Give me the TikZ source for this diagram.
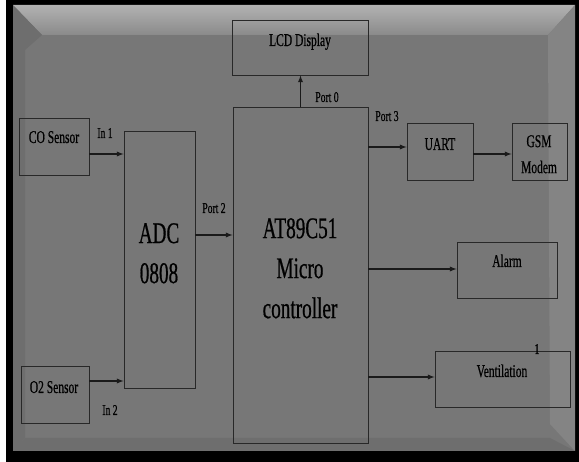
\documentclass[tikz,border=0pt]{standalone}
\usepackage{fontspec}
\setmainfont{Liberation Serif}[FakeStretch=0.64, FakeBold=0.6]
\usepackage{tikz}

\definecolor{facegray}{HTML}{777777}
\definecolor{toplight}{HTML}{B2B2B2}
\definecolor{topdark}{HTML}{8A8A8A}
\definecolor{sidelight}{HTML}{848484}
\definecolor{sidedark}{HTML}{6E6E6E}
\definecolor{inkgray}{HTML}{1A1A1A}

\begin{document}
\begin{tikzpicture}[x=1pt,y=-1pt,
    blk/.style={draw=inkgray!85!facegray, line width=0.9pt, inner sep=0pt},
    lbl/.style={font=\fontsize{18}{26}\selectfont, text=black, inner sep=0pt, anchor=base},
    big/.style={font=\fontsize{30}{40}\selectfont, text=black, inner sep=0pt, align=center, anchor=north},
    port/.style={font=\fontsize{15}{18}\selectfont, text=black, inner sep=0pt, anchor=base},
    arr/.style={->, >=latex, line width=1.3pt, draw=inkgray}]
        \useasboundingbox (0,0) rectangle (579,462);

        % Frame and bevelled panel
        \fill[white] (0,0) rectangle (579,462);
        \fill[black] (6,0) rectangle (579,462);
        \fill[facegray] (13,5) rectangle (575,451);
        \shade[top color=toplight, bottom color=topdark] (13,5) -- (575,5) -- (548,35) -- (42,35) -- cycle;
        \fill[sidelight] (575,5) -- (575,451) -- (550,424) -- (548,35) -- cycle;
        \fill[sidedark] (13,5) -- (42,35) -- (25,50) -- (25,438) -- (13,451) -- cycle;
        \fill[sidedark] (13,451) -- (25,438) -- (550,438) -- (575,451) -- cycle;

        % Blocks
        \node[blk, minimum width=136, minimum height=55] (lcd) at (300,47.5) {};
        \node[blk, minimum width=70, minimum height=57] (co) at (54,146.5) {};
        \node[blk, minimum width=68, minimum height=57] (otwo) at (55,394.5) {};
        \node[blk, minimum width=71, minimum height=257] (adc) at (159.5,259.5) {};
        \node[blk, minimum width=135, minimum height=336] (micro) at (300.5,275) {};
        \node[blk, minimum width=66, minimum height=57] (uart) at (440,151.5) {};
        \node[blk, minimum width=55, minimum height=57] (gsm) at (539.5,151.5) {};
        \node[blk, minimum width=100, minimum height=56] (alarm) at (507,270) {};
        \node[blk, minimum width=135, minimum height=56] (vent) at (502.5,379) {};

        % Block texts
        \node[lbl] (lcdtxt) at (300,46) {LCD Display};
        \node[lbl] (cotxt) at (54,143) {CO Sensor};
        \node[lbl] (otwotxt) at (54,393) {O2 Sensor};
        \node[lbl] (uarttxt) at (440,150) {UART};
        \node[lbl, align=center, anchor=north] (gsmtxt) at (539,135) {GSM\\Modem};
        \node[lbl] (alarmtxt) at (507,267) {Alarm};
        \node[lbl] (venttxt) at (502,377) {Ventilation};
        \node[big] (adctxt) at (159,223) {ADC\\0808};
        \node[big] (microtxt) at (300,218) {AT89C51\\Micro\\controller};

        % Connectors
        \draw[arr] ([yshift=-7.5pt]co.east) -- ([yshift=-7.5pt]co.east -| adc.west);
        \draw[arr] ([yshift=13.5pt]otwo.east) -- ([yshift=13.5pt]otwo.east -| adc.west);
        \draw[arr] ([yshift=24.5pt]adc.east) -- ([yshift=24.5pt]adc.east -| micro.west);
        \draw[arr] (micro.north) -- (micro.north |- lcd.south);
        \draw[arr] ([yshift=4.5pt]uart.west -| micro.east) -- ([yshift=4.5pt]uart.west);
        \draw[arr] ([yshift=-2.5pt]uart.east) -- ([yshift=-2.5pt]uart.east -| gsm.west);
        \draw[arr] ([yshift=1pt]alarm.west -| micro.east) -- ([yshift=1pt]alarm.west);
        \draw[arr] ([yshift=2pt]vent.west -| micro.east) -- ([yshift=2pt]vent.west);

        % Port labels
        \node[port] (inone) at (105,138) {In 1};
        \node[port] (intwo) at (110,415) {In 2};
        \node[port] (porttwo) at (214,213) {Port 2};
        \node[port] (portzero) at (327,102) {Port 0};
        \node[port] (portthree) at (387,121) {Port 3};
        \node[port] (mark) at (537,354) {1};
    \end{tikzpicture}
\end{document}
